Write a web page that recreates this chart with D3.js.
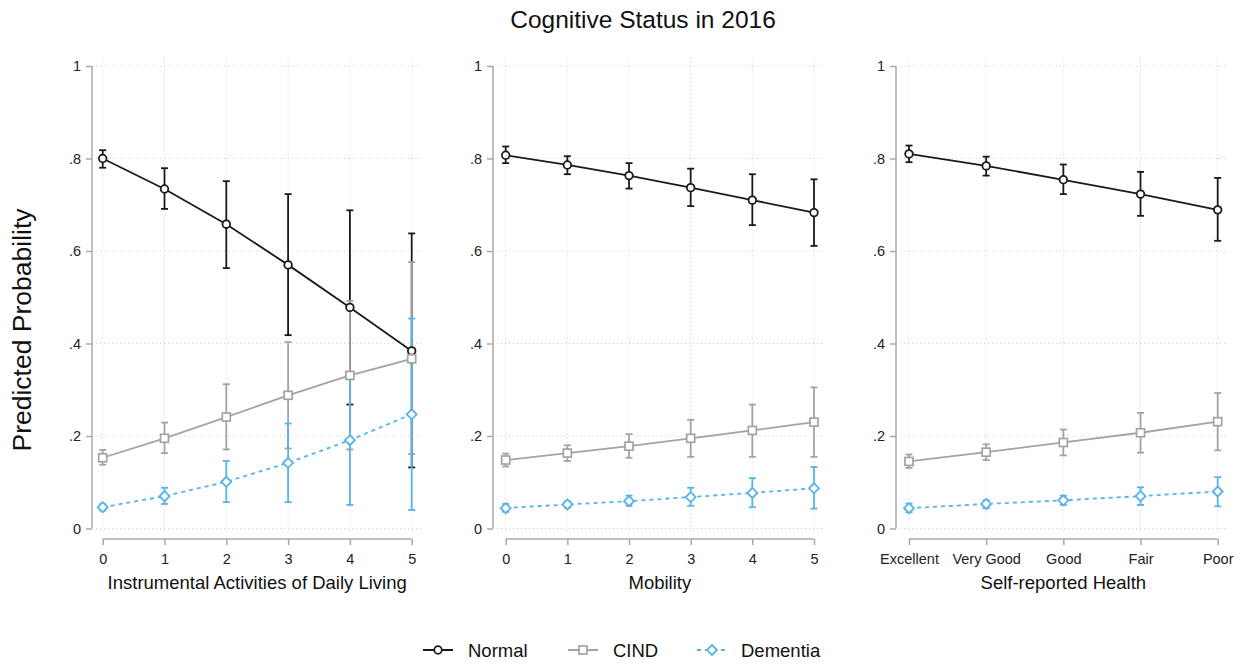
<!DOCTYPE html>
<html>
<head>
<meta charset="utf-8">
<script src="https://cdn.jsdelivr.net/npm/d3@7"></script>
<style>
  body { margin: 0; background: #fff; }
  svg { display: block; font-family: "Liberation Sans", Arial, sans-serif; }
</style>
</head>
<body>
<svg id="chart" width="1250" height="667"></svg>
<script>
// ---------- DATA ----------
const title = "Cognitive Status in 2016";
const yTitle = "Predicted Probability";
const yTicks = [0, 0.2, 0.4, 0.6, 0.8, 1];
const seriesNames = ["Normal", "CIND", "Dementia"];

const iadlCats = ["0", "1", "2", "3", "4", "5"];
const mobilityCats = ["0", "1", "2", "3", "4", "5"];
const healthCats = ["Excellent", "Very Good", "Good", "Fair", "Poor"];
const xTitles = ["Instrumental Activities of Daily Living", "Mobility", "Self-reported Health"];

// Panel 1: IADL
const iadlNormal    = [0.800, 0.734, 0.658, 0.570, 0.478, 0.384];
const iadlNormalLo  = [0.780, 0.691, 0.563, 0.418, 0.268, 0.132];
const iadlNormalHi  = [0.818, 0.779, 0.751, 0.723, 0.688, 0.638];
const iadlCind      = [0.153, 0.195, 0.241, 0.288, 0.331, 0.367];
const iadlCindLo    = [0.138, 0.163, 0.171, 0.173, 0.171, 0.161];
const iadlCindHi    = [0.170, 0.229, 0.312, 0.403, 0.492, 0.576];
const iadlDem       = [0.046, 0.070, 0.101, 0.142, 0.191, 0.247];
const iadlDemLo     = [0.039, 0.053, 0.057, 0.057, 0.051, 0.040];
const iadlDemHi     = [0.053, 0.088, 0.146, 0.227, 0.333, 0.454];

// Panel 2: Mobility
const mobNormal     = [0.807, 0.786, 0.763, 0.737, 0.710, 0.683];
const mobNormalLo   = [0.790, 0.766, 0.735, 0.697, 0.656, 0.611];
const mobNormalHi   = [0.826, 0.805, 0.790, 0.778, 0.766, 0.755];
const mobCind       = [0.148, 0.163, 0.178, 0.195, 0.212, 0.230];
const mobCindLo     = [0.134, 0.146, 0.153, 0.155, 0.155, 0.155];
const mobCindHi     = [0.162, 0.180, 0.204, 0.235, 0.268, 0.305];
const mobDem        = [0.044, 0.052, 0.059, 0.068, 0.077, 0.087];
const mobDemLo      = [0.036, 0.045, 0.049, 0.049, 0.046, 0.043];
const mobDemHi      = [0.053, 0.059, 0.071, 0.088, 0.109, 0.133];

// Panel 3: Self-reported health
const srhNormal     = [0.810, 0.784, 0.754, 0.723, 0.689];
const srhNormalLo   = [0.792, 0.763, 0.723, 0.676, 0.622];
const srhNormalHi   = [0.828, 0.804, 0.787, 0.771, 0.758];
const srhCind       = [0.145, 0.165, 0.186, 0.207, 0.231];
const srhCindLo     = [0.131, 0.148, 0.158, 0.164, 0.169];
const srhCindHi     = [0.160, 0.182, 0.214, 0.250, 0.293];
const srhDem        = [0.044, 0.053, 0.061, 0.070, 0.080];
const srhDemLo      = [0.035, 0.044, 0.051, 0.051, 0.048];
const srhDemHi      = [0.054, 0.061, 0.071, 0.089, 0.111];

// ---------- LAYOUT / STYLE ----------
const colors = ["#1a1a1a", "#a3a3a3", "#55b4e8"];
const panels = [
  { cats: iadlCats, xTitle: xTitles[0], axisX: 92, x0: 102.7, x1: 411.7, gl: 96, gr: 422,
    series: [[iadlNormal, iadlNormalLo, iadlNormalHi], [iadlCind, iadlCindLo, iadlCindHi], [iadlDem, iadlDemLo, iadlDemHi]] },
  { cats: mobilityCats, xTitle: xTitles[1], axisX: 493, x0: 505.7, x1: 814, gl: 497, gr: 823,
    series: [[mobNormal, mobNormalLo, mobNormalHi], [mobCind, mobCindLo, mobCindHi], [mobDem, mobDemLo, mobDemHi]] },
  { cats: healthCats, xTitle: xTitles[2], axisX: 896, x0: 909, x1: 1217.7, gl: 900, gr: 1227,
    series: [[srhNormal, srhNormalLo, srhNormalHi], [srhCind, srhCindLo, srhCindHi], [srhDem, srhDemLo, srhDemHi]] }
];

const svg = d3.select("#chart");
const y = d3.scaleLinear().domain([0, 1]).range([528.5, 66]);
const fmt = v => v === 0 ? "0" : v === 1 ? "1" : d3.format(".1f")(v).replace(/^0/, "");
const axisColor = "#a8a8a8";
const gridTop = 58, gridBottom = 532;
const lw = 1.8;

// Title
svg.append("text").attr("x", 643).attr("y", 28).attr("text-anchor", "middle")
  .attr("font-size", 24.5).attr("fill", "#111").text(title);

// Y title
svg.append("text").attr("transform", "translate(31,330) rotate(-90)")
  .attr("text-anchor", "middle").attr("font-size", 26.5).attr("fill", "#111").text(yTitle);

function marker(g, type, cx, cy, color) {
  if (type === 0) {
    g.append("circle").attr("cx", cx).attr("cy", cy).attr("r", 3.8)
      .attr("fill", "#fff").attr("stroke", color).attr("stroke-width", 1.8);
  } else if (type === 1) {
    g.append("rect").attr("x", cx - 4).attr("y", cy - 4).attr("width", 8).attr("height", 8)
      .attr("fill", "#fff").attr("stroke", color).attr("stroke-width", 1.7);
  } else {
    const s = 5;
    g.append("path").attr("d", `M${cx},${cy - s}L${cx + s},${cy}L${cx},${cy + s}L${cx - s},${cy}Z`)
      .attr("fill", "#fff").attr("stroke", color).attr("stroke-width", 1.8);
  }
}

panels.forEach(p => {
  const g = svg.append("g");
  const idx = p.cats.map((d, i) => i);
  const x = d3.scaleLinear().domain([0, p.cats.length - 1]).range([p.x0, p.x1]);

  // grid
  g.append("g").selectAll("line.h").data(yTicks).join("line")
    .attr("x1", p.gl).attr("x2", p.gr).attr("y1", d => y(d)).attr("y2", d => y(d))
    .attr("stroke", "#cfcfcf").attr("stroke-width", 1).attr("stroke-dasharray", "1,3");
  g.append("g").selectAll("line.v").data(idx).join("line")
    .attr("x1", d => x(d)).attr("x2", d => x(d)).attr("y1", gridTop).attr("y2", gridBottom)
    .attr("stroke", "#cfcfcf").attr("stroke-width", 1).attr("stroke-dasharray", "1,3");

  // y axis
  const ya = g.append("g").attr("transform", `translate(${p.axisX},0)`)
    .call(d3.axisLeft(y).tickValues(yTicks).tickFormat(fmt).tickSize(6).tickPadding(5));
  ya.select(".domain").attr("stroke", axisColor).attr("stroke-width", 1.5).attr("d", `M0,${y(0)}V${y(1)}`);
  ya.selectAll(".tick line").attr("stroke", axisColor).attr("stroke-width", 1.5);
  ya.selectAll(".tick text").attr("font-size", 14.5).attr("fill", "#222")
    .attr("font-family", "Liberation Sans, Arial, sans-serif");

  // x axis
  const xa = g.append("g").attr("transform", "translate(0,539)")
    .call(d3.axisBottom(x).tickValues(idx).tickFormat(i => p.cats[i]).tickSize(6).tickPadding(9));
  xa.select(".domain").attr("stroke", axisColor).attr("stroke-width", 1.5).attr("d", `M${p.x0},0H${p.x1}`);
  xa.selectAll(".tick line").attr("stroke", axisColor).attr("stroke-width", 1.5);
  xa.selectAll(".tick text").attr("font-size", 14.5).attr("fill", "#222")
    .attr("font-family", "Liberation Sans, Arial, sans-serif");

  // x title
  g.append("text").attr("x", (p.x0 + p.x1) / 2).attr("y", 589).attr("text-anchor", "middle")
    .attr("font-size", 18.5).attr("fill", "#111").text(p.xTitle);

  // CIs
  p.series.forEach((s, si) => {
    const [est, lo, hi] = s;
    const cg = g.append("g").attr("stroke", colors[si]).attr("stroke-width", lw);
    idx.forEach(i => {
      cg.append("line").attr("x1", x(i)).attr("x2", x(i)).attr("y1", y(lo[i])).attr("y2", y(hi[i]));
      cg.append("line").attr("x1", x(i) - 3.5).attr("x2", x(i) + 3.5).attr("y1", y(lo[i])).attr("y2", y(lo[i]));
      cg.append("line").attr("x1", x(i) - 3.5).attr("x2", x(i) + 3.5).attr("y1", y(hi[i])).attr("y2", y(hi[i]));
    });
  });

  // lines & markers
  p.series.forEach((s, si) => {
    const est = s[0];
    const line = d3.line().x((d, i) => x(i)).y(d => y(d));
    g.append("path").datum(est).attr("d", line).attr("fill", "none")
      .attr("stroke", colors[si]).attr("stroke-width", lw)
      .attr("stroke-dasharray", si === 2 ? "4,4" : null);
    idx.forEach(i => marker(g, si, x(i), y(est[i]), colors[si]));
  });
});

// Legend
const legendItems = [
  { lx: 423, tx: 468 },
  { lx: 568, tx: 613 },
  { lx: 697, tx: 741 }
];
const lg = svg.append("g");
seriesNames.forEach((name, si) => {
  const it = legendItems[si];
  const ly = 650;
  lg.append("line").attr("x1", it.lx).attr("x2", it.lx + 30).attr("y1", ly).attr("y2", ly)
    .attr("stroke", colors[si]).attr("stroke-width", 2)
    .attr("stroke-dasharray", si === 2 ? "4,4" : null);
  marker(lg, si, it.lx + 15, ly, colors[si]);
  lg.append("text").attr("x", it.tx).attr("y", ly + 6.5).attr("font-size", 18.5)
    .attr("fill", "#111").text(name);
});
</script>
</body>
</html>
